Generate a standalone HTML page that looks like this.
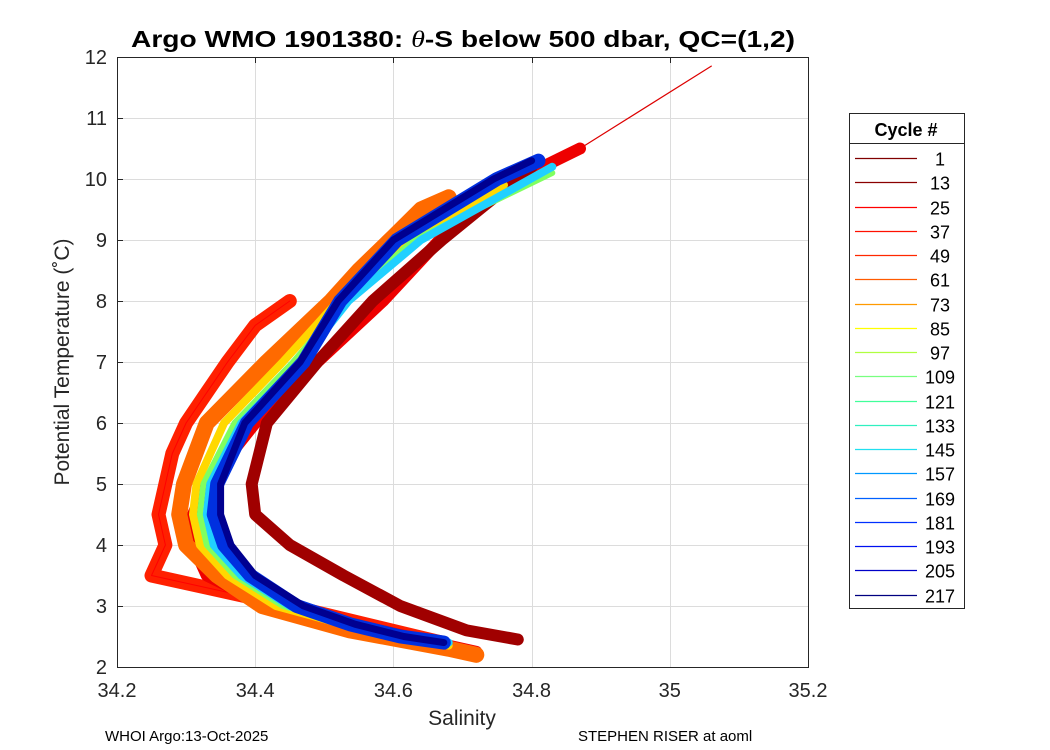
<!DOCTYPE html>
<html><head><meta charset="utf-8"><style>
body{margin:0;background:#fff;}
svg{display:block;font-family:"Liberation Sans","DejaVu Sans",sans-serif;}
</style></head><body>
<svg id="chart" width="1050" height="750" viewBox="0 0 1050 750" xmlns="http://www.w3.org/2000/svg">
<rect width="1050" height="750" fill="#fff"/>
<rect x="117" y="57" width="691" height="610" fill="#fff" stroke="none"/>
<g id="grid"></g>
<g id="series"></g>
<rect x="117.5" y="57.5" width="691" height="610" fill="none" stroke="#262626" stroke-width="1"/>
<g id="ticks"></g>
<text x="463" y="47" text-anchor="middle" font-size="23" font-weight="bold" textLength="664" lengthAdjust="spacingAndGlyphs">Argo WMO 1901380: <tspan font-style="italic" font-weight="normal" font-family="Liberation Serif,serif">θ</tspan>-S below 500 dbar,  QC=(1,2)</text>
<text x="462" y="725" text-anchor="middle" font-size="21" fill="#262626">Salinity</text>
<text transform="translate(69,362) rotate(-90)" text-anchor="middle" font-size="21" fill="#262626">Potential Temperature (˚C)</text>
<text x="105" y="741" font-size="15">WHOI Argo:13-Oct-2025</text>
<text x="578" y="741" font-size="15">STEPHEN RISER at aoml</text>
<g id="legend">
<rect x="849.5" y="113.5" width="115" height="495" fill="#fff" stroke="#262626"/>
<line x1="849.5" y1="143.5" x2="964.5" y2="143.5" stroke="#262626"/>
<text x="906" y="136" text-anchor="middle" font-size="18" font-weight="bold">Cycle #</text>
</g>
</svg>
<script>
const xTicks=[34.2,34.4,34.6,34.8,35,35.2];
const xTickLabels=["34.2","34.4","34.6","34.8","35","35.2"];
const yTicks=[2,3,4,5,6,7,8,9,10,11,12];
const legendCycles=[1,13,25,37,49,61,73,85,97,109,121,133,145,157,169,181,193,205,217];
const legendColors=["#800000","#8a0000","#ff0000","#ff1000","#ff2800","#ff5a00","#ff9a00","#ffff00","#b0ff40","#78ff80","#40ff9a","#30f0c0","#20e0f0","#0098ff","#0060ff","#0030ff","#0010f0","#0000c8","#000080"];
// profiles: temperature and salinity pairs
const tailT=[10.5,11.85];
const tailS=[34.87,35.06];
const redT=[10.5,10,9,8,7,6,5,4.5,4,3.5,3,2.5,2.25];
const redS=[34.87,34.78,34.667,34.585,34.49,34.40,34.33,34.31,34.31,34.33,34.42,34.62,34.72];
const redScribT=[8.0,7.6,7,6.5,6,5.5,5,4.5,4,3.5,3.3,3,2.7,2.4];
const redScribS=[34.45,34.40,34.36,34.33,34.30,34.28,34.27,34.26,34.27,34.25,34.33,34.45,34.56,34.67];
const orangeT=[9.7,9.5,9.05,8.5,8,7,6,5,4.5,4,3.5,3,2.6,2.3,2.2];
const orangeS=[34.68,34.64,34.60,34.55,34.51,34.417,34.33,34.297,34.29,34.30,34.345,34.41,34.537,34.68,34.72];
const darkRedT=[10.2,9,8,7,6,5,4.5,4,3.5,3,2.6,2.45];
const darkRedS=[34.80,34.67,34.57,34.49,34.417,34.395,34.40,34.45,34.528,34.61,34.706,34.78];
const yellowT=[9.9,9,8,7,6,5,4.5,4,3.5,3,2.6,2.35];
const yellowS=[34.76,34.62,34.52,34.44,34.355,34.315,34.31,34.32,34.36,34.43,34.56,34.68];
const greenT=[10.1,9,8,7,6,5,4.5,4,3.5,3,2.6,2.4];
const greenS=[34.83,34.63,34.53,34.455,34.37,34.325,34.32,34.33,34.37,34.44,34.57,34.68];
const cyanT=[10.2,9,8,7,6,5,4.5,4,3.5,3,2.6,2.4];
const cyanS=[34.83,34.64,34.535,34.465,34.38,34.335,34.33,34.34,34.38,34.45,34.575,34.68];
const blueT=[10.3,10,9,8,7,6,5,4.5,4,3.5,3,2.7,2.5,2.4];
const blueS=[34.81,34.75,34.605,34.523,34.47,34.388,34.345,34.34,34.355,34.393,34.46,34.537,34.61,34.673];
const navyT=[10.3,10,9,8,7,6,5,4.5,4,3.5,3,2.7,2.5,2.4];
const navyS=[34.80,34.745,34.60,34.52,34.465,34.385,34.35,34.35,34.365,34.40,34.47,34.545,34.615,34.673];

const NS="http://www.w3.org/2000/svg";
const X0=117,X1=808,Y0=667,Y1=57;
function sx(s){return X0+(s-34.2)/(35.2-34.2)*(X1-X0);}
function sy(t){return Y0-(t-2)/(12-2)*(Y0-Y1);}
function mk(tag,attrs,parent){const e=document.createElementNS(NS,tag);for(const k in attrs)e.setAttribute(k,attrs[k]);parent.appendChild(e);return e;}
const grid=document.getElementById('grid'),ticks=document.getElementById('ticks');
xTicks.forEach((v,i)=>{
  const px=Math.round(sx(v))+0.5;
  if(i>0&&i<xTicks.length-1){const g=mk('line',{x1:px,x2:px,y1:Y1,y2:Y0,stroke:'#dcdcdc','stroke-width':1},grid);
  
  }
  const t=mk('line',{x1:px,x2:px,y1:Y1,y2:Y1+6,stroke:'#262626'},ticks);
  
  
  const l=mk('text',{x:sx(v),y:697,'text-anchor':'middle','font-size':20,fill:'#262626'},ticks);
  l.textContent=xTickLabels[i];
  
  
});
yTicks.forEach((v,i)=>{
  const py=Math.round(sy(v))+0.5;
  if(i>0&&i<yTicks.length-1){const g=mk('line',{x1:X0,x2:X1,y1:py,y2:py,stroke:'#dcdcdc','stroke-width':1},grid);
  
  }
  const t=mk('line',{x1:X0,x2:X0+6,y1:py,y2:py,stroke:'#262626'},ticks);
  
  
  const l=mk('text',{x:107,y:sy(v)+7,'text-anchor':'end','font-size':20,fill:'#262626'},ticks);
  l.textContent=String(v);
  
  
});
const series=document.getElementById('series');
function draw(T,S,color,w,name){
  const pts=T.map((t,i)=>sx(S[i]).toFixed(1)+','+sy(t).toFixed(1)).join(' ');
  const p=mk('polyline',{points:pts,fill:'none',stroke:color,'stroke-width':w,'stroke-linejoin':'round','stroke-linecap':'round'},series);
  
  
}
draw(tailT,tailS,'#dd0000',1.2,'profile-red-tail');
draw(redScribT,redScribS,'#ff2000',14,'profile-red-scribble');
draw(redScribT,redScribS,'#ff0000',1,'profile-red-scribble-edge');
draw(redT,redS,'#ee0000',12,'profile-red');
draw(orangeT,orangeS,'#ff6a00',16,'profile-orange');
draw(darkRedT,darkRedS,'#a00000',12,'profile-dark-red');
draw(yellowT,yellowS,'#ffd800',8,'profile-yellow');
draw(greenT,greenS,'#80ff60',6,'profile-green');
draw(cyanT,cyanS,'#20d0ff',8,'profile-cyan');
draw(blueT,blueS,'#0030e0',14,'profile-blue');
draw(navyT,navyS,'#000090',7,'profile-navy');
const leg=document.getElementById('legend');
legendCycles.forEach((c,i)=>{
  const y=Math.round(158+i*24.25)+0.5;
  const l=mk('line',{x1:855,x2:917,y1:y,y2:y,stroke:legendColors[i],'stroke-width':1.3},leg);
  
  
  const t=mk('text',{x:940,y:y+7,'text-anchor':'middle','font-size':18},leg);
  t.textContent=String(c);
  
  
});
</script>
</body></html>
